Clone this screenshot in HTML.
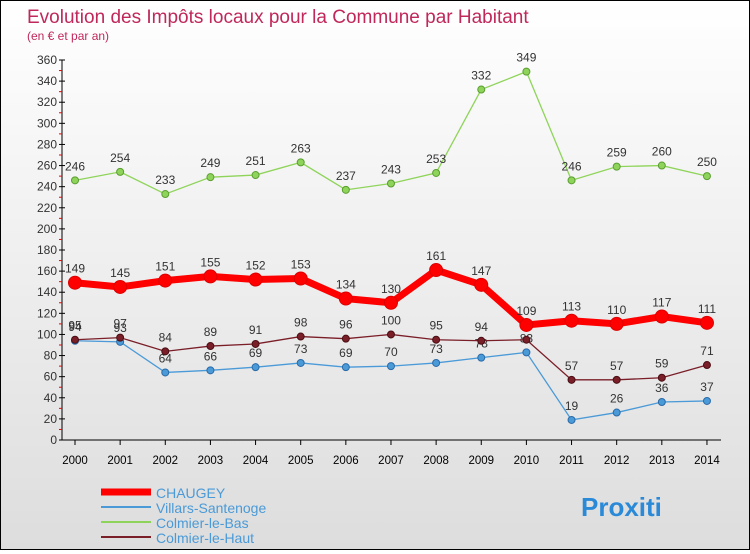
<!DOCTYPE html>
<html><head><meta charset="utf-8"><style>
body{margin:0;width:750px;height:550px;overflow:hidden;font-family:"Liberation Sans",sans-serif}
#c{position:absolute;left:0;top:0;width:748px;height:548px;border:1px solid #000;background:linear-gradient(#fff,#ddd)}
</style></head><body>
<div id="c">
<svg id="s" width="748" height="548" xmlns="http://www.w3.org/2000/svg"></svg>
</div>
<script>
const years=[2000,2001,2002,2003,2004,2005,2006,2007,2008,2009,2010,2011,2012,2013,2014];
const chaugey=[149,145,151,155,152,153,134,130,161,147,109,113,110,117,111];
const villars=[94,93,64,66,69,73,69,70,73,78,83,19,26,36,37];
const colmierBas=[246,254,233,249,251,263,237,243,253,332,349,246,259,260,250];
const colmierHaut=[95,97,84,89,91,98,96,100,95,94,95,57,57,59,71];
const yTicks=[0,20,40,60,80,100,120,140,160,180,200,220,240,260,280,300,320,340,360];
const NS="http://www.w3.org/2000/svg";
const s=document.getElementById('s');
const X=i=>74+i*45.14, Y=v=>439-v*380/360;
function el(t,a,p){const e=document.createElementNS(NS,t);for(const k in a)e.setAttribute(k,a[k]);(p||s).appendChild(e);return e;}
let t=el('text',{x:26,y:22,'font-size':19,fill:'#c0285a'});t.textContent='Evolution des Impôts locaux pour la Commune par Habitant';

t=el('text',{x:26,y:39,'font-size':12,fill:'#c0285a'});t.textContent='(en € et par an)';

const ax=el('g',{});
el('line',{x1:61,y1:Y(360),x2:61,y2:Y(0),stroke:'#000'},ax);
yTicks.forEach(v=>{el('line',{x1:58,x2:64,y1:Y(v),y2:Y(v),stroke:'#000'},ax);
 if(v<360)el('line',{x1:58,x2:61,y1:Y(v+10),y2:Y(v+10),stroke:'#e00'},ax);
 const tt=el('text',{x:56,y:Y(v)+4,'font-size':12,'text-anchor':'end',fill:'#333'},ax);tt.textContent=v;});
const xa=el('g',{});
el('line',{x1:61,y1:Y(0),x2:720,y2:Y(0),stroke:'#000'},xa);
years.forEach((y,i)=>{el('line',{x1:X(i),x2:X(i),y1:Y(0),y2:Y(0)+5,stroke:'#000'},xa);
 const tt=el('text',{x:X(i),y:Y(0)+24,'font-size':11.5,'text-anchor':'middle',fill:'#000'},xa);tt.textContent=y;});
function series(d,name,col,w,r,dark){
 const g=el('g',{});
 el('polyline',{points:d.map((v,i)=>X(i)+','+Y(v)).join(' '),fill:'none',stroke:col,'stroke-width':w},g);
 d.forEach((v,i)=>{const c=el('circle',{cx:X(i),cy:Y(v),r:r,fill:col,stroke:dark,'stroke-width':1},g);
  
  const tt=el('text',{x:X(i),y:Y(v)-10,'font-size':12,'text-anchor':'middle',fill:'#333'},g);tt.textContent=v;});
}
series(colmierBas,'colmier-le-bas-series','#8fd45a',1.3,3.5,'#5a9e30');
series(villars,'villars-santenoge-series','#4a9ad8',1.3,3.5,'#2a6aa8');
series(colmierHaut,'colmier-le-haut-series','#7a1e28',1.3,3.5,'#4a0e14');
series(chaugey,'chaugey-series','#ff0000',7,6.5,'#d00');
const lg=[['CHAUGEY','#ff0000',7],['Villars-Santenoge','#4a9ad8',2],['Colmier-le-Bas','#8fd45a',2],['Colmier-le-Haut','#7a1e28',2]];
lg.forEach((l,i)=>{const g=el('g',{});
 el('line',{x1:100,x2:150,y1:491+i*15,y2:491+i*15,stroke:l[1],'stroke-width':l[2]},g);
 const tt=el('text',{x:155,y:497+i*15,'font-size':14,fill:'#4a9ad8'},g);tt.textContent=l[0];});
t=el('text',{x:580,y:515,'font-size':26,'font-weight':'bold',fill:'#2a8ad8'});t.textContent='Proxiti';

</script>
</body></html>
